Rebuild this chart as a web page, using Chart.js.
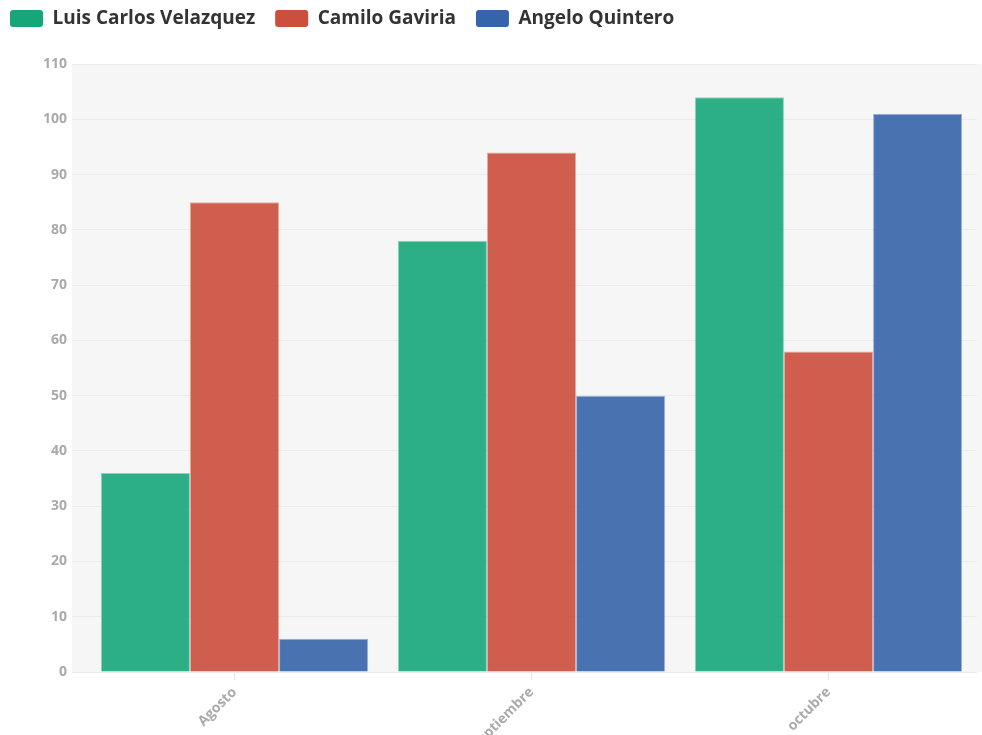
<!DOCTYPE html>
<html>
<head>
<meta charset="utf-8">
<script src="https://cdn.jsdelivr.net/npm/chart.js@4.4.1/dist/chart.umd.min.js"></script>
<style>
  html, body { margin: 0; padding: 0; background: #fff; }
  #wrap { width: 982px; height: 735px; position: relative; }
</style>
</head>
<body>
<div id="wrap"><canvas id="grades"></canvas></div>
<script>
const months = ["Agosto", "Septiembre", "octubre"];
const luisValues = [36, 78, 104];
const camiloValues = [85, 94, 58];
const angeloValues = [6, 50, 101];
const seriesNames = ["Luis Carlos Velazquez", "Camilo Gaviria", "Angelo Quintero"];

const colors = ["22, 166, 122", "204, 78, 60", "54, 100, 170"];
const fontFamily = "'Open Sans', sans-serif";

// gray panel behind the plot, reaching a bit past the y axis
const plotBackground = {
  id: "plotBackground",
  beforeDraw(chart) {
    const { ctx, chartArea } = chart;
    ctx.save();
    ctx.fillStyle = "#f6f6f6";
    ctx.fillRect(chartArea.left - 14, chartArea.top, chart.width - chartArea.left + 14, chartArea.bottom - chartArea.top);
    ctx.restore();
  },
};

function makeDataset(i, values) {
  return {
    label: seriesNames[i],
    data: values,
    backgroundColor: `rgba(${colors[i]}, 0.9)`,
    borderColor: `rgba(${colors[i]}, 0.45)`,
    borderWidth: 1,
    barPercentage: 1,
    categoryPercentage: 0.9,
  };
}

const ctx = document.getElementById("grades").getContext("2d");
const chart = new Chart(ctx, {
  type: "bar",
  data: {
    labels: months,
    datasets: [
      makeDataset(0, luisValues),
      makeDataset(1, camiloValues),
      makeDataset(2, angeloValues),
    ],
  },
  plugins: [plotBackground],
  options: {
    responsive: true,
    maintainAspectRatio: false,
    animation: false,
    layout: {
      padding: { left: -10, top: -11, right: 5, bottom: 0 },
    },
    plugins: {
      legend: {
        position: "top",
        align: "start",
        labels: {
          boxWidth: 33,
          boxHeight: 17,
          padding: 20,
          color: "#333",
          font: { family: fontFamily, size: 19, weight: "bold" },
          generateLabels(chart) {
            const items = Chart.defaults.plugins.legend.labels.generateLabels(chart);
            items.forEach((item, i) => {
              item.fillStyle = `rgb(${colors[i]})`;
              item.strokeStyle = `rgb(${colors[i]})`;
              item.lineWidth = 0;
              item.borderRadius = 3;
            });
            return items;
          },
          useBorderRadius: true,
          borderRadius: 3,
        },
      },
      // empty title used only as a spacer between legend and plot
      title: {
        display: true,
        text: "",
        weight: 0,
        font: { size: 10 },
        padding: { top: 0, bottom: 14 },
      },
      tooltip: { enabled: false },
    },
    scales: {
      x: {
        grid: {
          offset: false,
          drawOnChartArea: false,
          drawTicks: true,
          tickLength: 8,
          color: "#e4e4e4",
        },
        border: { display: false },
        ticks: {
          minRotation: 45,
          maxRotation: 45,
          color: "#aaa",
          padding: 4,
          font: { family: fontFamily, size: 14, weight: "bold" },
        },
        afterFit(scale) {
          scale.height = 63;
        },
      },
      y: {
        min: 0,
        max: 110,
        ticks: {
          stepSize: 10,
          color: "#aaa",
          padding: 5,
          font: { family: fontFamily, size: 14, weight: "bold" },
        },
        grid: {
          color: "#ebebeb",
          tickLength: 14,
        },
        border: { display: false },
        afterFit(scale) {
          scale.width = 96;
        },
      },
    },
  },
});
</script>
</body>
</html>
